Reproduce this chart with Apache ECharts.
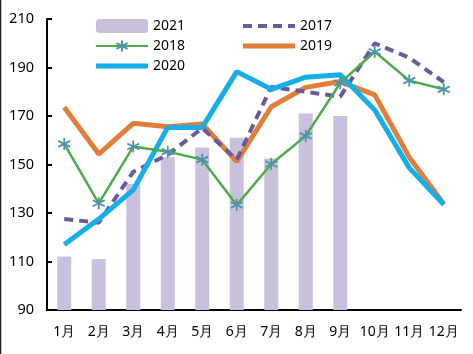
<!DOCTYPE html>
<html>
<head>
<meta charset="utf-8">
<script src="https://cdn.jsdelivr.net/npm/echarts@6/dist/echarts.min.js"></script>
<style>
  html, body { margin: 0; padding: 0; background: #fff; }
  #chart { width: 473px; height: 354px; }
</style>
</head>
<body>
<div id="chart"></div>
<script>
// 月份
const months = ['1月', '2月', '3月', '4月', '5月', '6月', '7月', '8月', '9月', '10月', '11月', '12月'];

// 各年数据
const data2021 = [112, 111, 142, 153, 157, 161, 152.5, 171, 170];
const data2017 = [127.5, 126, 147, 154, 165, 152, 182, 180, 178, 200, 194, 184];
const data2018 = [158.5, 134, 157.4, 155.3, 152, 133.3, 150.2, 161.8, 183.6, 196.5, 184.6, 181];
const data2019 = [173.6, 154.3, 167, 165.6, 166.7, 151.2, 173.8, 181.8, 184.2, 178.7, 153, 133.7];
const data2020 = [117, 127.5, 139.5, 165.3, 165.3, 188.3, 181, 186, 187, 172.5, 148.6, 133.5];

// 米字形标记
const starPath = 'path://M0,-6 L0,6 M-5.2,-3 L5.2,3 M-5.2,3 L5.2,-3';
// 图例线条图标
const solidIcon = 'path://M0,0 L52,0 L52,5 L0,5 Z';
const dashIcon = 'path://M0,0 h9 v4 h-9 Z M15,0 h9 v4 h-9 Z M30,0 h9 v4 h-9 Z M45,0 h7 v4 h-7 Z';

const chart = echarts.init(document.getElementById('chart'));
const font = 'Noto Sans';

const option = {
    animation: false,
    textStyle: { fontFamily: font },
    graphic: [
        {
            type: 'line',
            shape: { x1: 0.5, y1: 0, x2: 0.5, y2: 354 },
            style: { stroke: '#222', lineWidth: 1.5 }
        }
    ],
    legend: [
        {
            orient: 'vertical',
            left: 90,
            top: 14,
            itemWidth: 52,
            itemHeight: 14,
            itemGap: 6,
            textStyle: { fontSize: 14, color: '#000', fontFamily: font },
            data: [
                { name: '2021' },
                { name: '2018' },
                { name: '2020', icon: solidIcon }
            ]
        },
        {
            orient: 'vertical',
            left: 238,
            top: 14,
            itemWidth: 52,
            itemHeight: 14,
            itemGap: 6,
            textStyle: { fontSize: 14, color: '#000', fontFamily: font },
            data: [
                { name: '2017', icon: dashIcon },
                { name: '2019', icon: solidIcon }
            ]
        }
    ],
    grid: {
        left: 47,
        right: 12,
        top: 19,
        bottom: 44
    },
    xAxis: {
        type: 'category',
        data: months,
        boundaryGap: true,
        axisLine: { lineStyle: { color: '#000', width: 2 } },
        axisTick: { inside: true, length: 5, lineStyle: { color: '#000', width: 2 } },
        axisLabel: { color: '#000', fontSize: 14, margin: 15, interval: 0, fontFamily: font }
    },
    yAxis: {
        type: 'value',
        min: 90,
        max: 210,
        interval: 20,
        splitLine: { show: false },
        axisLine: { show: true, lineStyle: { color: '#000', width: 2 } },
        axisTick: { show: true, inside: true, length: 5, lineStyle: { color: '#000', width: 2 } },
        axisLabel: { color: '#000', fontSize: 14.5, margin: 13, fontFamily: font }
    },
    series: [
        {
            name: '2021',
            type: 'bar',
            barWidth: 14,
            itemStyle: { color: '#c9c0dd' },
            data: data2021,
            z: 1
        },
        {
            name: '2017',
            type: 'line',
            symbol: 'none',
            lineStyle: { color: '#6a5a9c', width: 4, type: [9, 6] },
            itemStyle: { color: '#6a5a9c' },
            data: data2017,
            z: 3
        },
        {
            name: '2018',
            type: 'line',
            symbol: starPath,
            symbolSize: 12,
            lineStyle: { color: '#4fa84a', width: 2.5 },
            itemStyle: { color: '#4fa84a', borderColor: '#4a96a8', borderWidth: 1.8 },
            data: data2018,
            z: 5
        },
        {
            name: '2019',
            type: 'line',
            symbol: 'none',
            lineStyle: { color: '#e07e3a', width: 5 },
            itemStyle: { color: '#e07e3a' },
            data: data2019,
            z: 2
        },
        {
            name: '2020',
            type: 'line',
            symbol: 'none',
            lineStyle: { color: '#14aee8', width: 5 },
            itemStyle: { color: '#14aee8' },
            data: data2020,
            z: 4
        }
    ]
};

chart.setOption(option);
</script>
</body>
</html>
